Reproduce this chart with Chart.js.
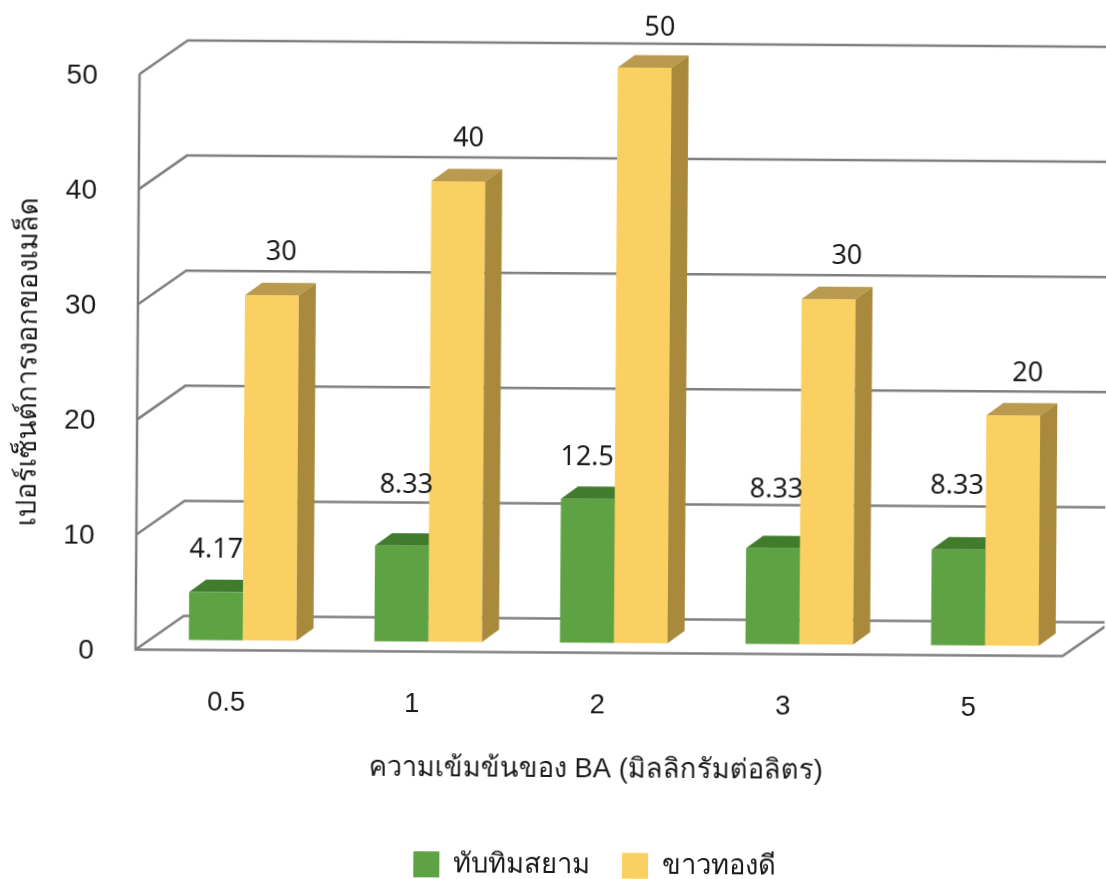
<!DOCTYPE html>
<html lang="th">
<head>
<meta charset="utf-8">
<title>เปอร์เซ็นต์การงอกของเมล็ด</title>
<script src="https://cdn.jsdelivr.net/npm/chart.js@4"></script>
<style>
    html, body { margin: 0; height: 100%; background: #fff; overflow: hidden; }
    #wrap { width: 1106px; height: 879px; transform: rotate(0.4deg); transform-origin: 553px 440px; }
</style>
</head>
<body>
<div id="wrap"><canvas id="germChart" width="1106" height="879"></canvas></div>
<script>
const concentrations = ['0.5', '1', '2', '3', '5'];
const tubtimSiam = [4.17, 8.33, 12.5, 8.33, 8.33];
const khaoThongDee = [30, 40, 50, 30, 20];
const yTicks = [0, 10, 20, 30, 40, 50];

// where each value label sits relative to the top of its bar
const greenLabelLift = [42, 60, 41, 58, 63];
const greenLabelShift = [0, 4, -1, 3, -2];
const yellowLabelLift = [43, 43, 40, 43, 42];
const yellowLabelShift = [9, 10, 15, 18, 14];

const FONT = '"Liberation Sans", "Noto Sans", sans-serif';
const INK = '#1a1a1a';
const DEPTH_X = 17, DEPTH_Y = 12.5;

const GREEN = { front: '#5ea243', top: '#417c2d', side: '#3a6f28' };
const YELLOW = { front: '#fad063', top: '#b99a4e', side: '#a98a3c' };

function drawDepth(ctx, bar, colors) {
    const half = bar.width / 2;
    const l = bar.x - half, r = bar.x + half, t = bar.y, b = bar.base;

    ctx.fillStyle = colors.top;
    ctx.beginPath();
    ctx.moveTo(l, t);
    ctx.lineTo(l + DEPTH_X, t - DEPTH_Y);
    ctx.lineTo(r + DEPTH_X, t - DEPTH_Y);
    ctx.lineTo(r, t);
    ctx.closePath();
    ctx.fill();

    ctx.fillStyle = colors.side;
    ctx.beginPath();
    ctx.moveTo(r, t);
    ctx.lineTo(r + DEPTH_X, t - DEPTH_Y);
    ctx.lineTo(r + DEPTH_X, b - DEPTH_Y);
    ctx.lineTo(r, b);
    ctx.closePath();
    ctx.fill();
}

// back wall, side wall and floor, plus the 3D faces of the bars
const box3d = {
    id: 'box3d',
    beforeDatasetsDraw(chart) {
        const { ctx, scales: { y } } = chart;
        const frontX = 137, backX = 185, edgeX = 1125;
        ctx.save();
        ctx.strokeStyle = '#7f7f7f';
        ctx.lineWidth = 2.5;
        yTicks.forEach(v => {
            const py = y.getPixelForValue(v);
            ctx.beginPath();
            ctx.moveTo(frontX, py + 10);
            ctx.lineTo(backX, py - 24);
            ctx.lineTo(edgeX, py - 24);
            ctx.stroke();
        });
        const y0 = y.getPixelForValue(0), y50 = y.getPixelForValue(50);
        ctx.beginPath();
        ctx.moveTo(frontX, y50 + 10);
        ctx.lineTo(frontX, y0 + 10);
        ctx.lineTo(1064, y0 + 10);
        ctx.lineTo(1064 + 48, y0 - 24);
        ctx.stroke();

        chart.getDatasetMeta(0).data.forEach(bar => drawDepth(ctx, bar, GREEN));
        ctx.restore();
    },
    afterDatasetsDraw(chart) {
        const { ctx } = chart;
        ctx.save();
        chart.getDatasetMeta(1).data.forEach(bar => drawDepth(ctx, bar, YELLOW));

        ctx.fillStyle = INK;
        ctx.font = '27px "Noto Sans", sans-serif';
        ctx.textAlign = 'center';
        ctx.textBaseline = 'middle';
        chart.getDatasetMeta(0).data.forEach((bar, i) => {
            ctx.fillText(String(tubtimSiam[i]), bar.x + greenLabelShift[i], bar.y - greenLabelLift[i]);
        });
        chart.getDatasetMeta(1).data.forEach((bar, i) => {
            ctx.fillText(String(khaoThongDee[i]), bar.x + yellowLabelShift[i], bar.y - yellowLabelLift[i]);
        });
        ctx.restore();
    },
    afterLayout(chart) {
        // legend sits lower and further right than the default slot
        const { legend, scales: { x, y } } = chart;
        legend.left += 52;
        legend.right += 52;
        legend.top += 34;
        legend.bottom += 34;
        // axis titles are centred on the front of the box, not on the plot
        x.left -= 34;
        y.top += 22;
    }
};

new Chart(document.getElementById('germChart'), {
    type: 'bar',
    data: {
        labels: concentrations,
        datasets: [
            { label: 'ทับทิมสยาม', data: tubtimSiam, backgroundColor: GREEN.front, clip: false },
            { label: 'ขาวทองดี', data: khaoThongDee, backgroundColor: YELLOW.front, clip: false }
        ]
    },
    plugins: [box3d],
    options: {
        responsive: false,
        animation: false,
        categoryPercentage: 0.58,
        barPercentage: 1,
        layout: { padding: { left: 12, right: 27, top: 67, bottom: 24 } },
        scales: {
            x: {
                grid: { display: false },
                border: { display: false },
                ticks: { color: INK, font: { family: FONT, size: 27.5 }, padding: 38, labelOffset: -16, maxRotation: 0 },
                title: { display: true, text: 'ความเข้มข้นของ BA (มิลลิกรัมต่อลิตร)', color: INK, font: { family: FONT, size: 27.4 }, padding: { top: 0, bottom: 0 } },
                afterFit(scale) { scale.height = 143; }
            },
            y: {
                min: 0,
                max: 50,
                grid: { display: false },
                border: { display: false },
                ticks: { stepSize: 10, color: INK, font: { family: FONT, size: 28 }, padding: 48, labelOffset: 12 },
                title: { display: true, text: 'เปอร์เซ็นต์การงอกของเมล็ด', color: INK, font: { family: FONT, size: 27.6 }, padding: 0 },
                afterFit(scale) { scale.width = 139.25; }
            }
        },
        plugins: {
            legend: {
                position: 'bottom',
                labels: { color: INK, font: { family: FONT, size: 27.4 }, boxWidth: 26, boxHeight: 26, padding: 32 }
            },
            tooltip: { enabled: false }
        }
    }
});
</script>
</body>
</html>
